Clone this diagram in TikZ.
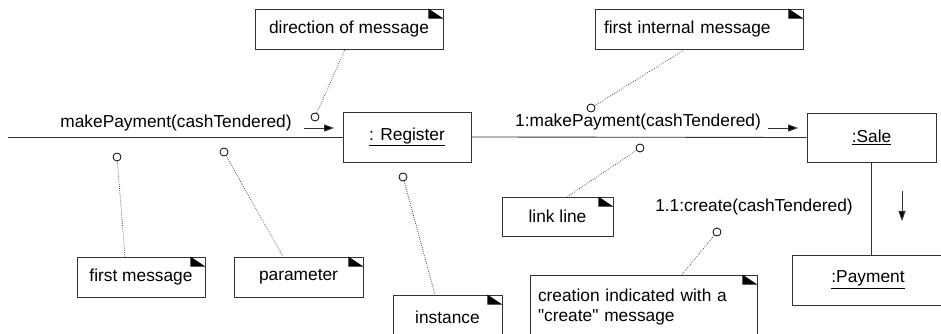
\documentclass[tikz,border=0pt]{standalone}
\usepackage{fontspec}
\setmainfont{Liberation Sans}[Ligatures=TeXOff]
\usetikzlibrary{arrows.meta,calc}
\def\px{0.75pt}
\begin{document}
\begin{tikzpicture}[x=0.75pt,y=-0.75pt,
  font=\fontsize{13}{15.5}\selectfont,
  obj/.style={draw=black!80, line width=0.65pt, rectangle, inner sep=0pt, fill=white},
  note/.style={draw=black!80, line width=0.6pt, rectangle, inner sep=0pt, fill=white},
  corner/.style={fill=black},
  pin/.style={draw=black, line width=0.6pt, circle, minimum size=8*\px, inner sep=0pt, fill=white},
  link/.style={draw=black!80, line width=0.65pt},
  msg/.style={draw=black!80, line width=0.65pt, -{Triangle[length=10*\px,width=7*\px,fill=black]}},
  hint/.style={draw=black!75, line width=0.55pt, densely dotted},
  lbl/.style={inner sep=0pt}
]
\useasboundingbox (0,0) rectangle (941,334);
\clip (0,0) rectangle (941,334);
\fill[white] (0,0) rectangle (941,334);

% objects
\node[obj, minimum width=128*\px, minimum height=50*\px] (reg) at (407,137) {\underline{: Register}};
\node[obj, minimum width=129*\px, minimum height=49*\px] (sale) at (871.5,137.5) {\underline{:Sale}};
\node[obj, minimum width=152*\px, minimum height=50*\px] (pay) at (868,280) {\underline{:Payment}};

% links
\coordinate (start) at (8,137);
\draw[link] (start) -- (reg.west);
\draw[link] (reg.east) -- (sale.west);
\draw[link] (sale.south) -- (sale.south |- pay.north);

% messages
\node[lbl] (m1) at (176,123) {makePayment(cashTendered)};
\coordinate (a1s) at (304,128); \coordinate (a1e) at (334,128);
\draw[msg] (a1s) -- (a1e);
\node[lbl] (m2) at (638,122) {1:makePayment(cashTendered)};
\coordinate (a2s) at (768,128); \coordinate (a2e) at (798,128);
\draw[msg] (a2s) -- (a2e);
\node[lbl] (m3) at (754,207) {1.1:create(cashTendered)};
\coordinate (a3s) at (902,191); \coordinate (a3e) at (902,221);
\draw[msg] (a3s) -- (a3e);

% notes
\node[note, minimum width=188*\px, minimum height=40*\px] (ndir) at (349,29) {direction of message};
\node[note, minimum width=208*\px, minimum height=40*\px, text width=190*\px, inner xsep=9*\px, align=left] (nint) at (699,29) {first internal message};
\node[note, minimum width=111*\px, minimum height=39*\px] (nlink) at (557.5,216.5) {link line};
\node[note, minimum width=227*\px, minimum height=64*\px, text width=211*\px, inner xsep=8*\px, align=left] (ncre) at (643.5,307) {creation indicated with a\\"create" message};
\node[note, minimum width=128*\px, minimum height=40*\px] (nfirst) at (141,277) {first message};
\node[note, minimum width=129*\px, minimum height=40*\px] (nparam) at (298.5,277) {parameter};
\node[note, minimum width=109*\px, minimum height=44*\px] (ninst) at (447.5,317) {instance};

% folded corners
\foreach \n in {ndir,nint,nlink,ncre,nfirst,nparam,ninst}{
  \fill[corner] ([xshift=-15*\px]\n.north east) -- ([xshift=-15*\px,yshift=-10*\px]\n.north east)
    -- ([yshift=-10*\px]\n.north east) -- cycle;
}

% pins
\node[pin] (cdir) at (315,117) {};
\node[pin] (cint) at (591,108) {};
\node[pin] (clink) at (640,148) {};
\node[pin] (ccre) at (717,232) {};
\node[pin] (cfirst) at (117,157) {};
\node[pin] (cparam) at (224,152) {};
\node[pin] (cinst) at (403,177) {};

% hint lines
\draw[hint] (cdir) -- ([xshift=-4*\px]ndir.south);
\draw[hint] (cint) -- ([xshift=-14*\px]nint.south);
\draw[hint] (clink) -- ([xshift=10*\px]nlink.north);
\draw[hint] (ccre) -- ([xshift=38.5*\px]ncre.north);
\draw[hint] (cfirst) -- ([xshift=-16*\px]nfirst.north);
\draw[hint] (cparam) -- ([xshift=-15.5*\px]nparam.north);
\draw[hint] (cinst) -- ([xshift=-12.5*\px]ninst.north);
\end{tikzpicture}
\end{document}
